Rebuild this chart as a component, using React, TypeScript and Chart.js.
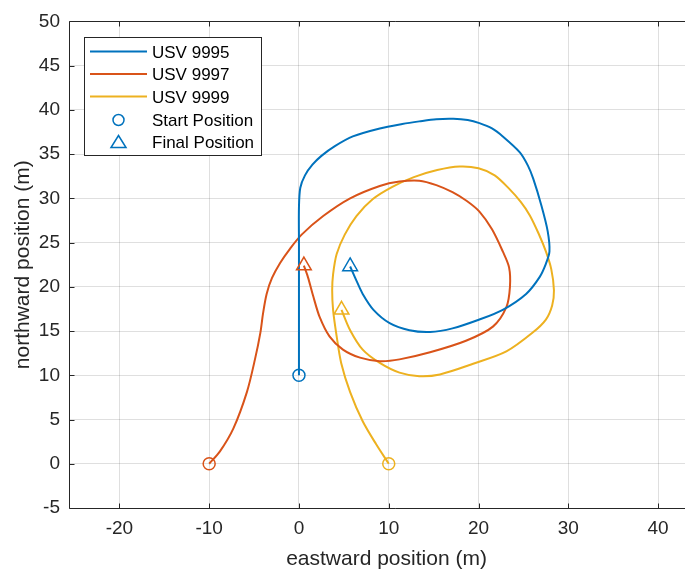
import React, { useEffect, useRef } from "react";
import { Chart, registerables } from "chart.js";

Chart.register(...registerables);

// ---- data ----
const xTicks = [-20, -10, 0, 10, 20, 30, 40];
const yTicks = [-5, 0, 5, 10, 15, 20, 25, 30, 35, 40, 45, 50];
const seriesNames = ["USV 9995", "USV 9997", "USV 9999"];
const markerNames = ["Start Position", "Final Position"];
const seriesColors = ["#0072BD", "#D95319", "#EDB120"];
const xTitle = "eastward position (m)";
const yTitle = "northward position (m)";

const usv9995: [number, number][] = [
  [0, 10], [0, 15], [0, 20], [0, 25], [0, 29], [0.15, 31.2], [0.67, 32.6], [1.5, 33.8],
  [2.5, 34.8], [4.0, 35.9], [6.0, 37.0], [9.0, 37.9], [11.5, 38.4], [13.4, 38.7],
  [15.3, 38.95], [17.2, 39.0], [18.8, 38.85], [20.1, 38.5], [21.5, 37.9], [22.7, 37.0],
  [24.6, 35.2], [25.5, 33.7], [26.1, 32.2], [27.0, 29.2], [27.7, 26.3], [27.9, 24.0],
  [27.5, 22.6], [26.8, 21.1], [25.3, 19.2], [22.7, 17.4], [20.1, 16.3], [17.1, 15.3],
  [14.6, 14.9], [12.3, 15.1], [10.1, 15.9], [8.3, 17.4], [7.1, 19.2], [6.4, 20.7],
  [5.7, 22.3],
];
const usv9997: [number, number][] = [
  [-10, 0], [-8.8, 1.4], [-7.3, 4.0], [-5.8, 8.1], [-4.9, 11.8], [-4.3, 14.8],
  [-4.0, 17.0], [-3.6, 19.2], [-3.0, 21.0], [-2.1, 22.7], [-1.0, 24.3], [0.3, 25.9],
  [2.7, 28.0], [5.7, 30.0], [9.0, 31.4], [11.2, 31.9], [13.4, 32.0], [15.3, 31.5],
  [17.1, 30.7], [18.7, 29.7], [20.1, 28.5], [21.5, 26.5], [22.7, 24.0], [23.4, 22.2],
  [23.5, 20.0], [23.1, 17.7], [21.6, 15.5], [18.6, 13.9], [14.6, 12.6], [11.2, 11.8],
  [9.0, 11.6], [6.8, 12.0], [4.9, 12.9], [3.4, 14.4], [2.3, 16.6], [1.6, 18.9],
  [1.0, 21.1], [0.55, 22.4],
];
const usv9999: [number, number][] = [
  [10, 0], [8.6, 2.2], [7.1, 4.8], [5.7, 8.1], [4.7, 11.4], [4.2, 14.4], [3.8, 17.4],
  [3.7, 19.6], [3.8, 21.4], [4.2, 23.7], [5.1, 25.9], [6.4, 28.0], [8.2, 29.9],
  [10.4, 31.3], [12.8, 32.4], [15.4, 33.2], [17.9, 33.6], [20.0, 33.4], [21.8, 32.6],
  [23.4, 31.1], [24.7, 29.6], [25.7, 28.1], [26.7, 26.0], [27.5, 24.0], [28.1, 22.0],
  [28.4, 19.6], [28.2, 17.9], [27.5, 16.3], [26.0, 14.8], [23.1, 12.7], [19.4, 11.3],
  [15.7, 10.1], [13.4, 9.9], [11.2, 10.3], [9.0, 11.4], [7.1, 12.9], [5.7, 15.1],
  [4.74, 17.4],
];
const trajectories = [usv9995, usv9997, usv9999];

const FONT = 'Arial, "Liberation Sans", Helvetica, sans-serif';
const TEXT = "#262626";
const GRID = "rgba(38,38,38,0.15)";

const toPts = (a: [number, number][]) => a.map(([x, y]) => ({ x, y }));

const framePlugin = {
  id: "frame",
  afterDraw(chart: any) {
    const { ctx, chartArea, scales } = chart;
    const { left, right, top, bottom } = chartArea;
    const L = Math.round(left) - 0.5;
    const T = Math.round(top) + 0.5;
    const B = Math.round(bottom) + 0.5;
    ctx.save();
    ctx.strokeStyle = TEXT;
    ctx.lineWidth = 1;
    ctx.beginPath();
    ctx.moveTo(right + 20, T);
    ctx.lineTo(L, T);
    ctx.lineTo(L, B);
    ctx.lineTo(right + 20, B);
    ctx.stroke();
    // inward ticks
    ctx.beginPath();
    for (const v of xTicks) {
      const px = Math.round(scales.x.getPixelForValue(v)) + 0.5;
      ctx.moveTo(px, B);
      ctx.lineTo(px, B - 5);
      ctx.moveTo(px, T);
      ctx.lineTo(px, T + 5);
    }
    for (const v of yTicks) {
      const py = Math.round(scales.y.getPixelForValue(v)) + 0.5;
      ctx.moveTo(L, py);
      ctx.lineTo(L + 5, py);
    }
    ctx.stroke();

    // legend
    const bx = 84.5, by = 37.5, bw = 177, bh = 118;
    ctx.fillStyle = "#ffffff";
    ctx.fillRect(bx, by, bw, bh);
    ctx.strokeStyle = TEXT;
    ctx.strokeRect(bx, by, bw, bh);
    const rows = [51.5, 74, 96.5, 120, 142];
    ctx.font = `17px ${FONT}`;
    ctx.textBaseline = "middle";
    ctx.textAlign = "left";
    seriesNames.forEach((name, i) => {
      ctx.strokeStyle = seriesColors[i];
      ctx.lineWidth = 2;
      ctx.beginPath();
      ctx.moveTo(90, rows[i]);
      ctx.lineTo(147, rows[i]);
      ctx.stroke();
      ctx.fillStyle = "#000";
      ctx.fillText(name, 152, rows[i] + 1.8);
    });
    ctx.strokeStyle = seriesColors[0];
    ctx.lineWidth = 1.5;
    ctx.beginPath();
    ctx.arc(118.5, rows[3], 5.5, 0, Math.PI * 2);
    ctx.stroke();
    ctx.beginPath();
    ctx.moveTo(118.5, rows[4] - 6.5);
    ctx.lineTo(126, rows[4] + 5.5);
    ctx.lineTo(111, rows[4] + 5.5);
    ctx.closePath();
    ctx.stroke();
    ctx.fillStyle = "#000";
    ctx.fillText(markerNames[0], 152, rows[3] + 1.8);
    ctx.fillText(markerNames[1], 152, rows[4] + 1.8);
    ctx.restore();
  },
};

export default function App() {
  const ref = useRef<HTMLCanvasElement>(null);
  useEffect(() => {
    const lineSets = trajectories.map((t, i) => ({
      label: seriesNames[i],
      data: toPts(t),
      showLine: true,
      borderColor: seriesColors[i],
      borderWidth: 2,
      pointRadius: 0,
      tension: 0.3,
      fill: false,
    }));
    const startSets = trajectories.map((t, i) => ({
      label: "start" + i,
      data: toPts([t[0]]),
      showLine: false,
      pointStyle: "circle",
      pointRadius: 6,
      pointBorderWidth: 1.5,
      pointBorderColor: seriesColors[i],
      pointBackgroundColor: "rgba(0,0,0,0)",
    }));
    const endSets = trajectories.map((t, i) => ({
      label: "end" + i,
      data: toPts([t[t.length - 1]]),
      showLine: false,
      pointStyle: "triangle",
      pointRadius: 8.5,
      pointBorderWidth: 1.5,
      pointBorderColor: seriesColors[i],
      pointBackgroundColor: "rgba(0,0,0,0)",
    }));
    const chart = new Chart(ref.current as HTMLCanvasElement, {
      type: "scatter",
      data: { datasets: [...startSets, ...endSets, ...lineSets] as any },
      options: {
        animation: false,
        responsive: false,
        maintainAspectRatio: false,
        devicePixelRatio: 1,
        layout: { padding: { left: 0, top: 14, right: 17, bottom: 0 } },
        plugins: { legend: { display: false }, tooltip: { enabled: false } },
        scales: {
          x: {
            type: "linear",
            min: -25.5,
            max: 45,
            afterBuildTicks: (s: any) => {
              s.ticks = xTicks.map((v) => ({ value: v }));
            },
            afterFit: (s: any) => {
              s.height = 65;
            },
            grid: { color: GRID, drawTicks: false },
            border: { display: false },
            ticks: { font: { size: 19, family: FONT }, color: TEXT, padding: 9, maxRotation: 0 },
            title: {
              display: true,
              text: xTitle,
              font: { size: 21, family: FONT },
              color: TEXT,
              padding: { top: 0, bottom: 1 },
            },
          },
          y: {
            type: "linear",
            min: -5,
            max: 50,
            afterBuildTicks: (s: any) => {
              s.ticks = yTicks.map((v) => ({ value: v }));
            },
            afterFit: (s: any) => {
              s.width = 70;
            },
            grid: { color: GRID, drawTicks: false },
            border: { display: false },
            ticks: { font: { size: 19, family: FONT }, color: TEXT, padding: 10 },
            title: {
              display: true,
              text: yTitle,
              font: { size: 21, family: FONT },
              color: TEXT,
              padding: { top: 11, bottom: 0 },
            },
          },
        },
      } as any,
      plugins: [framePlugin],
    });
    return () => chart.destroy();
  }, []);
  return (
    <div
      style={{
        position: "fixed",
        left: 0,
        top: 0,
        width: 685,
        height: 573,
        overflow: "hidden",
        background: "#fff",
      }}
    >
      <canvas ref={ref} width={720} height={573} style={{ display: "block", width: 720, height: 573 }} />
    </div>
  );
}
